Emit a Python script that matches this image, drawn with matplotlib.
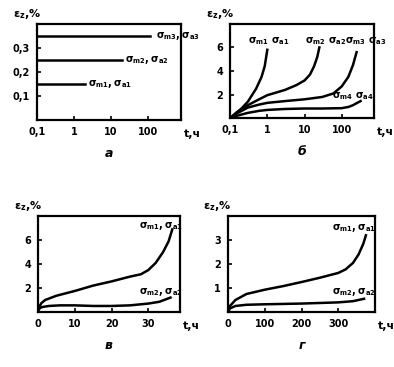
import matplotlib.pyplot as plt
import numpy as np

plt.rcParams['font.family'] = ['DejaVu Sans']
plt.rcParams['font.weight'] = 'bold'
plt.rcParams['mathtext.default'] = 'bf'

# panel a: constant strain levels (log time)
a_levels = [0.15, 0.25, 0.35]
a_tend = [2.0, 20.0, 120.0]
a_labels = [r'$\sigma_{m1},\sigma_{a1}$', r'$\sigma_{m2},\sigma_{a2}$', r'$\sigma_{m3},\sigma_{a3}$']
a_label_x = [2.4, 24.0, 170.0]

# panel b: creep curves (log time)
b_t = [
    [0.1, 0.15, 0.2, 0.3, 0.5, 0.7, 0.85, 1.0],
    [0.1, 0.15, 0.3, 0.6, 1.0, 3.0, 6.0, 10.0, 14.0, 18.0, 22.0, 25.0],
    [0.1, 0.15, 0.3, 0.6, 1.0, 3.0, 10.0, 30.0, 60.0, 100.0, 150.0, 200.0, 250.0],
    [0.1, 0.15, 0.3, 0.6, 1.0, 3.0, 10.0, 30.0, 100.0, 150.0, 200.0, 260.0, 320.0],
]
b_eps = [
    [0.0, 0.45, 0.8, 1.4, 2.5, 3.5, 4.4, 5.8],
    [0.0, 0.5, 1.1, 1.6, 1.95, 2.4, 2.8, 3.2, 3.7, 4.4, 5.2, 6.0],
    [0.0, 0.4, 0.9, 1.15, 1.3, 1.45, 1.6, 1.8, 2.1, 2.7, 3.5, 4.5, 5.6],
    [0.0, 0.2, 0.45, 0.62, 0.7, 0.78, 0.82, 0.82, 0.85, 0.95, 1.1, 1.3, 1.45],
]
b_labels = [r'$\sigma_{m1}\ \sigma_{a1}$', r'$\sigma_{m2}\ \sigma_{a2}$',
            r'$\sigma_{m3}\ \sigma_{a3}$', r'$\sigma_{m4}\ \sigma_{a4}$']
b_label_xy = [(0.3, 6.5), (10.5, 6.5), (125.0, 6.5), (55.0, 1.9)]

# panel v: linear time, hours 0..38
v_t = [
    [0.0, 0.3, 1.0, 2.0, 5.0, 10.0, 15.0, 20.0, 25.0, 28.0, 30.0, 32.0, 34.0, 35.5, 36.5],
    [0.0, 0.3, 1.0, 3.0, 6.0, 10.0, 15.0, 20.0, 25.0, 30.0, 33.0, 36.0],
]
v_eps = [
    [0.0, 0.4, 0.75, 1.0, 1.35, 1.75, 2.2, 2.55, 2.95, 3.15, 3.5, 4.1, 5.0, 5.9, 6.9],
    [0.0, 0.25, 0.4, 0.5, 0.55, 0.55, 0.5, 0.5, 0.55, 0.7, 0.85, 1.2],
]
v_labels = [r'$\sigma_{m1},\sigma_{a1}$', r'$\sigma_{m2},\sigma_{a2}$']
v_label_xy = [(27.5, 7.2), (27.5, 1.7)]

# panel g: linear time, hours 0..400
g_t = [
    [0.0, 5.0, 20.0, 50.0, 100.0, 150.0, 200.0, 250.0, 300.0, 320.0, 340.0, 355.0, 368.0, 375.0],
    [0.0, 5.0, 20.0, 50.0, 100.0, 200.0, 300.0, 340.0, 370.0],
]
g_eps = [
    [0.0, 0.25, 0.5, 0.75, 0.93, 1.08, 1.25, 1.43, 1.63, 1.78, 2.05, 2.4, 2.85, 3.2],
    [0.0, 0.15, 0.25, 0.3, 0.32, 0.35, 0.4, 0.45, 0.55],
]
g_labels = [r'$\sigma_{m1},\sigma_{a1}$', r'$\sigma_{m2},\sigma_{a2}$']
g_label_xy = [(283.0, 3.5), (283.0, 0.85)]

log_ticks = [0.1, 1, 10, 100]
log_ticklabels = ['0,1', '1', '10', '100']

fig = plt.figure(figsize=(3.94, 3.67), dpi=100)

ax_a = fig.add_axes([0.094, 0.673, 0.365, 0.262])
ax_b = fig.add_axes([0.584, 0.678, 0.365, 0.257])
ax_v = fig.add_axes([0.096, 0.150, 0.360, 0.261])
ax_g = fig.add_axes([0.579, 0.150, 0.373, 0.261])


def style(ax):
    for s in ax.spines.values():
        s.set_linewidth(1.6)
    ax.tick_params(direction='in', length=3, width=1.2, labelsize=7, pad=5)


# ----- a -----
for lev, te, lab, lx in zip(a_levels, a_tend, a_labels, a_label_x):
    ax_a.plot([0.1, te], [lev, lev], color='black', lw=1.8)
    ax_a.text(lx, lev, lab, fontsize=7, va='center', ha='left')
ax_a.set_xscale('log')
ax_a.set_xlim(0.1, 800)
ax_a.set_ylim(0, 0.4)
ax_a.set_xticks(log_ticks, log_ticklabels)
ax_a.minorticks_off()
ax_a.set_yticks([0.1, 0.2, 0.3], ['0,1', '0,2', '0,3'])
style(ax_a)

# ----- b -----
for t, e, lab, xy in zip(b_t, b_eps, b_labels, b_label_xy):
    ax_b.plot(t, e, color='black', lw=1.8)
    ax_b.text(xy[0], xy[1], lab, fontsize=7, va='center', ha='left')
ax_b.set_xscale('log')
ax_b.set_xlim(0.1, 730)
ax_b.set_ylim(0, 8)
ax_b.set_xticks(log_ticks, log_ticklabels)
ax_b.minorticks_off()
ax_b.set_yticks([2, 4, 6], ['2', '4', '6'])
style(ax_b)

# ----- v -----
for t, e, lab, xy in zip(v_t, v_eps, v_labels, v_label_xy):
    ax_v.plot(t, e, color='black', lw=1.8)
    ax_v.text(xy[0], xy[1], lab, fontsize=7, va='center', ha='left')
ax_v.set_xlim(0, 38.5)
ax_v.set_ylim(0, 8)
ax_v.set_xticks([0, 10, 20, 30], ['0', '10', '20', '30'])
ax_v.set_yticks([2, 4, 6], ['2', '4', '6'])
style(ax_v)

# ----- g -----
for t, e, lab, xy in zip(g_t, g_eps, g_labels, g_label_xy):
    ax_g.plot(t, e, color='black', lw=1.8)
    ax_g.text(xy[0], xy[1], lab, fontsize=7, va='center', ha='left')
ax_g.set_xlim(0, 400)
ax_g.set_ylim(0, 4)
ax_g.set_xticks([0, 100, 200, 300], ['0', '100', '200', '300'])
ax_g.set_yticks([1, 2, 3], ['1', '2', '3'])
style(ax_g)

# axis captions and panel letters
for ax, letter in zip([ax_a, ax_b, ax_v, ax_g], ['а', 'б', 'в', 'г']):
    ax.text(-0.17, 1.03, r'$\varepsilon_z$,%', transform=ax.transAxes,
            fontsize=8, ha='left', va='bottom')
    ax.text(1.02, -0.15, 't,ч', transform=ax.transAxes, fontsize=8,
            ha='left', va='center')
    ax.text(0.5, -0.35, letter, transform=ax.transAxes, fontsize=9,
            style='italic', ha='center', va='center')

fig.savefig('out.png', dpi=100)
